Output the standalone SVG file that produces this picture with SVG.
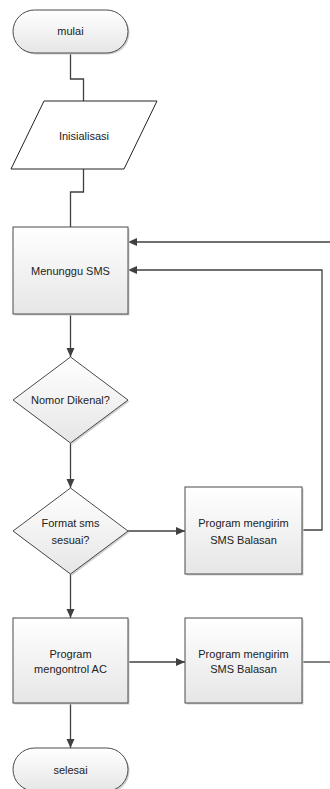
<svg xmlns="http://www.w3.org/2000/svg" width="330" height="789" viewBox="0 0 330 789">
<style>
.shape{stroke:#4a4a4a;stroke-width:1;fill:url(#g)}
.shadow{fill:#cfcfcf;stroke:none}
.t{font-family:"Liberation Sans",Arial,sans-serif;font-size:11px;fill:#222;text-anchor:middle}
.c{stroke:#404040;stroke-width:1.3;fill:none}
</style>
<defs>
<linearGradient id="g" x1="0" y1="0" x2="0" y2="1">
<stop offset="0" stop-color="#ffffff"/>
<stop offset="1" stop-color="#e6e6e6"/>
</linearGradient>
<marker id="a" markerWidth="10" markerHeight="10" refX="9" refY="5" orient="auto" markerUnits="userSpaceOnUse">
<path d="M0,1 L9,5 L0,9 Z" fill="#404040"/>
</marker>
</defs>
<g id="connectors">
<path class="c" d="M70.5,53 V79 H83.5 V101"/>
<path class="c" d="M83.5,169 V192 H70.5 V227"/>
<path class="c" d="M330,242 H128" marker-end="url(#a)"/>
<path class="c" d="M302,530 H322 V270 H128" marker-end="url(#a)"/>
<path class="c" d="M70.5,314 V357" marker-end="url(#a)"/>
<path class="c" d="M70.5,443 V488" marker-end="url(#a)"/>
<path class="c" d="M128,531 H185" marker-end="url(#a)"/>
<path class="c" d="M70.5,574 V618" marker-end="url(#a)"/>
<path class="c" d="M128,662 H185" marker-end="url(#a)"/>
<path class="c" d="M302,662 H330"/>
<path class="c" d="M70.5,703 V748" marker-end="url(#a)"/>
</g>
<g id="mulai">
<rect class="shadow" x="14.5" y="11.5" width="115" height="43" rx="21.5"/>
<rect class="shape" x="13" y="10" width="115" height="43" rx="21.5"/>
<text class="t" x="70.5" y="35">mulai</text>
</g>
<g id="inisialisasi">
<polygon points="44,101 157,101 124,169 11,169" fill="#fff" stroke="#222" stroke-width="1"/>
<text class="t" x="84" y="140">Inisialisasi</text>
</g>
<g id="menunggu">
<rect class="shadow" x="14.5" y="228.5" width="115" height="87"/>
<rect class="shape" x="13" y="227" width="115" height="87"/>
<text class="t" x="70.5" y="275">Menunggu SMS</text>
</g>
<g id="nomor">
<polygon class="shadow" points="72,358.5 129.5,401.5 72,444.5 14.5,401.5"/>
<polygon class="shape" points="70.5,357 128,400 70.5,443 13,400"/>
<text class="t" x="70.5" y="404">Nomor Dikenal?</text>
</g>
<g id="format">
<polygon class="shadow" points="72,489.5 129.5,532.5 72,575.5 14.5,532.5"/>
<polygon class="shape" points="70.5,488 128,531 70.5,574 13,531"/>
<text class="t" x="70.5" y="527">Format sms</text>
<text class="t" x="70.5" y="544">sesuai?</text>
</g>
<g id="balasan1">
<rect class="shadow" x="186.5" y="488.5" width="117" height="87"/>
<rect class="shape" x="185" y="487" width="117" height="87"/>
<text class="t" x="243.5" y="527">Program mengirim</text>
<text class="t" x="243.5" y="544">SMS Balasan</text>
</g>
<g id="kontrol">
<rect class="shadow" x="14.5" y="619.5" width="115" height="85"/>
<rect class="shape" x="13" y="618" width="115" height="85"/>
<text class="t" x="70.5" y="658">Program</text>
<text class="t" x="70.5" y="673">mengontrol AC</text>
</g>
<g id="balasan2">
<rect class="shadow" x="186.5" y="619.5" width="117" height="85"/>
<rect class="shape" x="185" y="618" width="117" height="85"/>
<text class="t" x="243.5" y="658">Program mengirim</text>
<text class="t" x="243.5" y="673">SMS Balasan</text>
</g>
<g id="selesai">
<rect class="shadow" x="14.5" y="749.5" width="115" height="43" rx="21.5"/>
<rect class="shape" x="13" y="748" width="115" height="43" rx="21.5"/>
<text class="t" x="70.5" y="774">selesai</text>
</g>
</svg>
